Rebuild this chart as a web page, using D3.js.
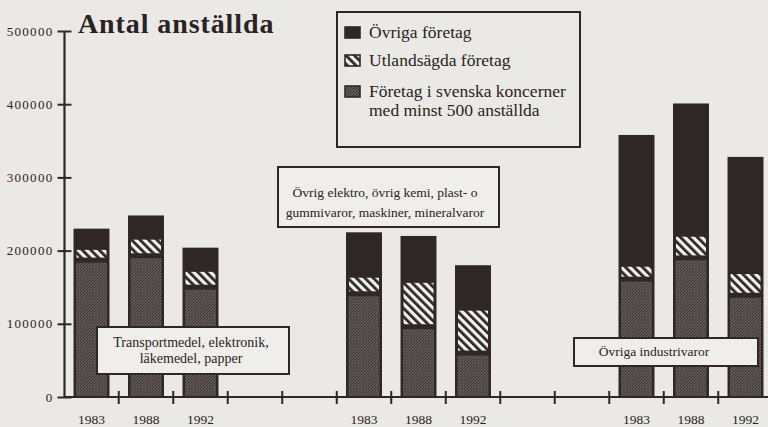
<!DOCTYPE html>
<html>
<head>
<meta charset="utf-8">
<script src="https://cdn.jsdelivr.net/npm/d3@7"></script>
<style>
  html, body { margin: 0; padding: 0; background: #ebe9e5; }
  svg { display: block; }
  text { font-family: "Liberation Serif", "Times New Roman", serif; fill: #2a2323; }
</style>
</head>
<body>
<script>
// Branch groups, years and employment figures (number of employees)
const groups = [
  ["Transportmedel, elektronik,", "läkemedel, papper"],
  ["Övrig elektro, övrig kemi, plast- o", "gummivaror, maskiner, mineralvaror"],
  ["Övriga industrivaror"]
];
const years = ["1983", "1988", "1992"];
const svenskaKoncerner = [187000, 193000, 150000, 141000, 96000, 60000, 161000, 190000, 139000];
const utlandsagda      = [16000, 24000, 23000, 24000, 62000, 60000, 19000, 31000, 31000];
const ovriga           = [27000, 31000, 31000, 60000, 62000, 60000, 178000, 180000, 158000];
const yTicks = [0, 100000, 200000, 300000, 400000, 500000];
const legendLabels = [
  ["Övriga företag"],
  ["Utlandsägda företag"],
  ["Företag i svenska koncerner", "med minst 500 anställda"]
];
const title = "Antal anställda";

const W = 768, H = 427;
const dark = "#2f2727";

const svg = d3.select("body").append("svg").attr("width", W).attr("height", H);
const defs = svg.append("defs");

// dithered grey fill (scattered dots in a 3x3 cell)
const dither = defs.append("pattern").attr("id", "dither")
  .attr("patternUnits", "userSpaceOnUse").attr("width", 3).attr("height", 3);
dither.append("rect").attr("width", 3).attr("height", 3).attr("fill", "#5e5656");
[[0, 0], [2, 1], [1, 2]].forEach(([px, py]) =>
  dither.append("rect").attr("x", px).attr("y", py).attr("width", 1).attr("height", 1).attr("fill", "#3e3636"));
dither.append("rect").attr("x", 1).attr("y", 0).attr("width", 1).attr("height", 1).attr("fill", "#6e6666");

// diagonal hatch fill
const hatch = defs.append("pattern").attr("id", "hatch")
  .attr("patternUnits", "userSpaceOnUse").attr("width", 6).attr("height", 6)
  .attr("patternTransform", "rotate(-45)");
hatch.append("rect").attr("width", 6).attr("height", 6).attr("fill", "#f4f3f0");
hatch.append("rect").attr("width", 2.8).attr("height", 6).attr("fill", dark);

// rows for stacking
const rows = years.length * groups.length;
const data = d3.range(rows).map(i => ({
  g: Math.floor(i / years.length),
  year: years[i % years.length],
  slot: Math.floor(i / years.length) * 5 + (i % years.length),
  svenska: svenskaKoncerner[i],
  utland: utlandsagda[i],
  ovriga: ovriga[i]
}));
const stack = d3.stack().keys(["svenska", "utland", "ovriga"])(data);

// scales
const slots = d3.range(13);
const pad = 0.34;
const x = d3.scaleBand().domain(slots).range([64.25, 772.75])
  .paddingInner(pad).paddingOuter(pad / 2);
const y = d3.scaleLinear().domain([0, 500000]).range([397, 31]);
const x0 = 64.5;

// bars: dark body, then inset grey and hatched segments
const barG = svg.append("g");
data.forEach((d, i) => {
  const bx = x(d.slot), bw = x.bandwidth();
  const s0 = stack[0][i], s1 = stack[1][i], s2 = stack[2][i];
  barG.append("rect").attr("x", bx).attr("y", y(s2[1]))
    .attr("width", bw).attr("height", y(0) - y(s2[1])).attr("fill", dark);
  barG.append("rect").attr("x", bx + 2.5).attr("y", y(s0[1]) + 2.5)
    .attr("width", bw - 5).attr("height", y(0) - y(s0[1]) - 3.5).attr("fill", "url(#dither)");
  barG.append("rect").attr("x", bx + 3).attr("y", y(s1[1]) + 1.5)
    .attr("width", bw - 6).attr("height", Math.max(0, y(s1[0]) - y(s1[1]) - 4)).attr("fill", "url(#hatch)");
});

// x axis baseline with ticks at slot boundaries
svg.append("line").attr("x1", x0).attr("x2", W).attr("y1", y(0)).attr("y2", y(0))
  .attr("stroke", dark).attr("stroke-width", 2.2);
const step = x.step();
svg.append("g").selectAll("line").data(slots.slice(0, 12)).join("line")
  .attr("x1", s => x(s) + x.bandwidth() + step * pad / 2)
  .attr("x2", s => x(s) + x.bandwidth() + step * pad / 2)
  .attr("y1", y(0) - 6).attr("y2", y(0) + 7)
  .attr("stroke", dark).attr("stroke-width", 2);

// year labels
svg.append("g").selectAll("text").data(data).join("text")
  .attr("x", d => x(d.slot) + x.bandwidth() / 2)
  .attr("y", 424)
  .attr("text-anchor", "middle")
  .attr("font-size", 13.5)
  .text(d => d.year);

// y axis
const yAxis = svg.append("g").attr("transform", `translate(${x0},0)`)
  .call(d3.axisLeft(y).tickValues(yTicks).tickSize(7).tickPadding(4).tickFormat(d3.format("d")));
yAxis.select(".domain").remove();
yAxis.append("line").attr("x1", 0).attr("x2", 0).attr("y1", y(500000)).attr("y2", y(0))
  .attr("stroke", dark).attr("stroke-width", 2.2);
yAxis.selectAll(".tick line").attr("x1", -7).attr("x2", 7).attr("stroke", dark).attr("stroke-width", 2);
yAxis.selectAll(".tick text")
  .attr("font-size", 13).attr("letter-spacing", 1.3)
  .style("fill", "#2a2323");

// title
svg.append("text").attr("x", 78).attr("y", 33)
  .attr("font-size", 28).attr("letter-spacing", 0.9).attr("font-weight", "bold").text(title);

// legend
const lg = svg.append("g");
lg.append("rect").attr("x", 337).attr("y", 12).attr("width", 243).attr("height", 135)
  .attr("fill", "none").attr("stroke", dark).attr("stroke-width", 2);
const swatchFills = [dark, "url(#hatch)", "url(#dither)"];
const legendY = [38, 66, 97];
legendLabels.forEach((lines, k) => {
  lg.append("rect").attr("x", 345).attr("y", legendY[k] - 11).attr("width", 15).attr("height", 11)
    .attr("fill", swatchFills[k]).attr("stroke", dark).attr("stroke-width", 1.6);
  const t = lg.append("text").attr("x", 369).attr("y", legendY[k]).attr("font-size", 17.5);
  lines.forEach((ln, j) => t.append("tspan").attr("x", 369).attr("dy", j ? 19 : 0).text(ln));
});

// group label boxes
const boxes = [
  { x: 97, y: 327, w: 192, h: 47, cx: 191, base: 347, lh: 16, fs: 14 },
  { x: 278, y: 167, w: 221, h: 60, cx: 385, base: 197, lh: 20, fs: 13.5 },
  { x: 574, y: 338, w: 184, h: 28, cx: 654, base: 356, lh: 16, fs: 13.5 }
];
groups.forEach((lines, k) => {
  const b = boxes[k];
  const g = svg.append("g");
  g.append("rect").attr("x", b.x).attr("y", b.y).attr("width", b.w).attr("height", b.h)
    .attr("fill", "#efeeea").attr("stroke", dark).attr("stroke-width", 2);
  const t = g.append("text").attr("text-anchor", "middle").attr("font-size", b.fs);
  lines.forEach((ln, j) => t.append("tspan").attr("x", b.cx).attr("y", b.base + j * b.lh).text(ln));
});
</script>
</body>
</html>
